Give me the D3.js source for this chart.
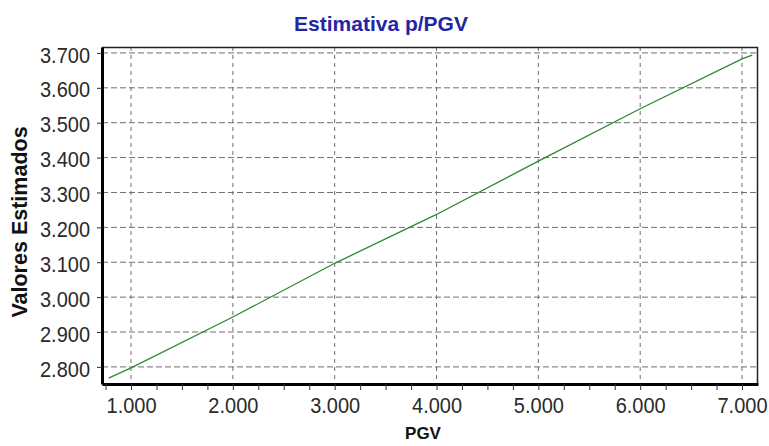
<!DOCTYPE html>
<html>
<head>
<meta charset="utf-8">
<script src="https://cdn.jsdelivr.net/npm/d3@7"></script>
<style>
  body { margin: 0; background: #fff; }
  svg { display: block; }
</style>
</head>
<body>
<div id="chart"></div>
<script>
// data
const pgv = [0.78, 1, 2, 3, 4, 5, 6, 7, 7.1];
const estimados = [2.768, 2.797, 2.943, 3.097, 3.237, 3.39, 3.54, 3.683, 3.694];
const xTicks = [1, 2, 3, 4, 5, 6, 7];
const yTicks = [2.8, 2.9, 3.0, 3.1, 3.2, 3.3, 3.4, 3.5, 3.6, 3.7];
const title = 'Estimativa p/PGV';
const xTitle = 'PGV';
const yTitle = 'Valores Estimados';

const width = 769, height = 446;
const margin = { top: 47, right: 11, bottom: 62, left: 102 };
const innerW = width - margin.left - margin.right;
const innerH = height - margin.top - margin.bottom;
const font = 'Liberation Sans, Arial, sans-serif';

// numbers are shown as 1.000 / 2.800 (dot, three decimals)
const fmt = (d) => d3.format('.3f')(d);

const svg = d3.select('#chart').append('svg')
  .attr('width', width)
  .attr('height', height)
  .attr('font-family', font);

const chart = svg.append('g')
  .attr('transform', `translate(${margin.left},${margin.top})`);

const x = d3.scaleLinear().domain([0.715, 7.157]).range([0, innerW]);
const y = d3.scaleLinear().domain([2.751, 3.717]).range([innerH, 0]);

// dashed grid
chart.append('g').selectAll('line.gx')
  .data(xTicks).join('line')
  .attr('class', 'gx')
  .attr('x1', (d) => x(d)).attr('x2', (d) => x(d))
  .attr('y1', 0).attr('y2', innerH)
  .attr('stroke', '#6e6e6e')
  .attr('stroke-dasharray', '4,4');

chart.append('g').selectAll('line.gy')
  .data(yTicks).join('line')
  .attr('class', 'gy')
  .attr('x1', 0).attr('x2', innerW)
  .attr('y1', (d) => y(d)).attr('y2', (d) => y(d))
  .attr('stroke', '#6e6e6e')
  .attr('stroke-dasharray', '6,3');

// thin frame top / right
chart.append('path')
  .attr('d', `M0,0.5H${innerW - 0.5}V${innerH}`)
  .attr('fill', 'none')
  .attr('stroke', '#222')
  .attr('stroke-width', 1.5);

// the estimate line
const line = d3.line().x((d, i) => x(pgv[i])).y((d) => y(d));
chart.append('path')
  .datum(estimados)
  .attr('d', line)
  .attr('fill', 'none')
  .attr('stroke', '#2b8a2b')
  .attr('stroke-width', 1.3);

// axes
const minorX = d3.range(0.75, 7.01, 0.25);
const xAxis = d3.axisBottom(x)
  .tickValues(minorX)
  .tickSize(6)
  .tickSizeOuter(0)
  .tickPadding(6)
  .tickFormat((d) => (Math.abs(d - Math.round(d)) < 1e-6 ? fmt(d) : ''));

const yAxis = d3.axisLeft(y)
  .tickValues(yTicks)
  .tickSize(5)
  .tickSizeOuter(0)
  .tickPadding(7)
  .tickFormat(fmt);

const gx = chart.append('g')
  .attr('transform', `translate(0,${innerH})`)
  .call(xAxis);
const gy = chart.append('g').call(yAxis);

[gx, gy].forEach((g) => {
  g.select('.domain').attr('stroke', '#000').attr('stroke-width', 3);
  g.selectAll('.tick line').attr('stroke', '#333').attr('stroke-width', 1);
  g.selectAll('.tick text')
    .attr('font-family', font)
    .attr('font-size', 20)
    .attr('fill', '#2a2a2a');
});
gx.selectAll('.tick text').attr('transform', 'scale(1,1.12)');
gy.selectAll('.tick text').attr('transform', 'translate(0,2) scale(1,1.12)');

// titles
svg.append('text')
  .attr('x', 381)
  .attr('y', 31)
  .attr('text-anchor', 'middle')
  .attr('font-size', 21)
  .attr('font-weight', 'bold')
  .attr('fill', '#2424a8')
  .text(title);

svg.append('text')
  .attr('x', 423)
  .attr('y', 439)
  .attr('text-anchor', 'middle')
  .attr('font-size', 17)
  .attr('font-weight', 'bold')
  .attr('fill', '#111')
  .text(xTitle);

svg.append('text')
  .attr('transform', 'translate(27,222) rotate(-90)')
  .attr('text-anchor', 'middle')
  .attr('font-size', 21.5)
  .attr('font-weight', 'bold')
  .attr('fill', '#111')
  .text(yTitle);
</script>
</body>
</html>
